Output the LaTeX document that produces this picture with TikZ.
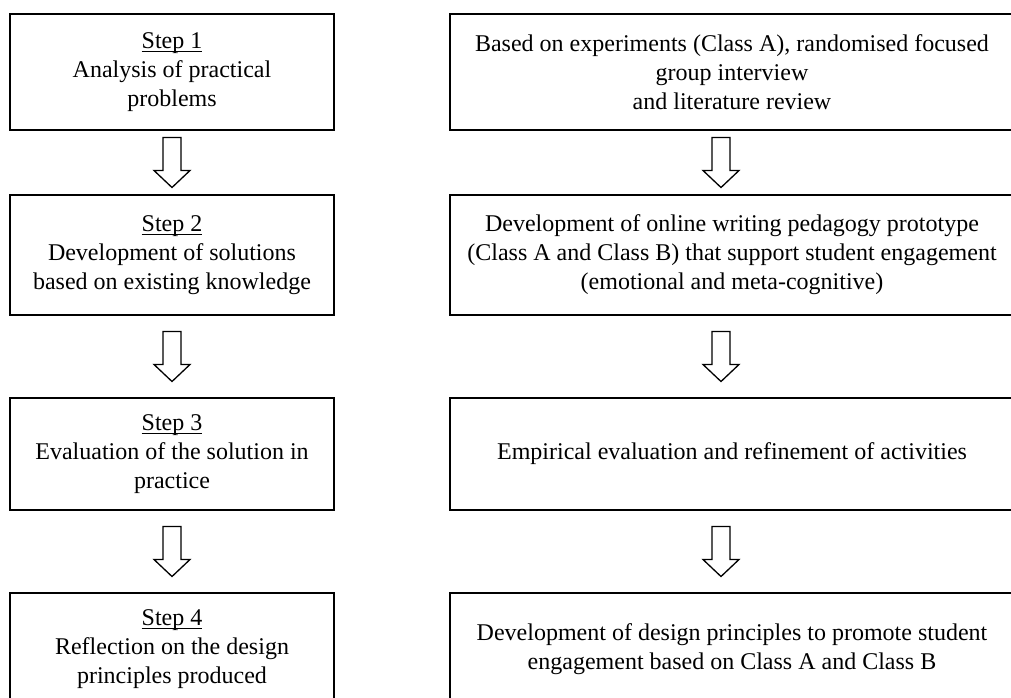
\documentclass[tikz,border=0pt]{standalone}
\usepackage{fontspec}
\setmainfont{Liberation Serif}
\usetikzlibrary{calc}
\newcommand\steplabel[1]{\setbox0\hbox{#1}\rlap{\rule[-3.6pt]{\wd0}{0.9pt}}\box0}

\begin{document}
\begin{tikzpicture}[x=1pt,y=-1pt]
  \path[use as bounding box] (0,0) rectangle (1011,698);
  \tikzset{
    stepbox/.style={draw, line width=1.5pt, align=center, inner sep=0pt,
      font=\fontsize{24}{29}\selectfont},
    hollow/.style={draw, line width=1.3pt, fill=white, line join=miter}
  }
  % left column
  \node[stepbox, minimum width=324pt, minimum height=116pt] (s1) at (172,72) {
    \steplabel{Step 1}\\Analysis of practical\\problems};
  \node[stepbox, minimum width=324pt, minimum height=120pt] (s2) at (172,255) {
    \steplabel{Step 2}\\Development of solutions\\based on existing knowledge};
  \node[stepbox, minimum width=324pt, minimum height=112pt] (s3) at (172,454) {
    \steplabel{Step 3}\\Evaluation of the solution in\\practice};
  \node[stepbox, minimum width=324pt, minimum height=112pt] (s4) at (172,649) {
    \steplabel{Step 4}\\Reflection on the design\\principles produced};
  % right column
  \node[stepbox, minimum width=564pt, minimum height=116pt] (r1) at (732,72) {
    Based on experiments (Class A), randomised focused\\group interview\\and literature review};
  \node[stepbox, minimum width=564pt, minimum height=120pt] (r2) at (732,255) {
    Development of online writing pedagogy prototype\\(Class A and Class B) that support student engagement\\(emotional and meta-cognitive)};
  \node[stepbox, minimum width=564pt, minimum height=112pt] (r3) at (732,454) {
    Empirical evaluation and refinement of activities};
  \node[stepbox, minimum width=564pt, minimum height=112pt] (r4) at (732,649) {
    Development of design principles to promote student\\engagement based on Class A and Class B};
  % block arrows
  \foreach \a/\b/\dx in {s1/s2/0, s2/s3/0, s3/s4/0, r1/r2/-11, r2/r3/-11, r3/r4/-11}{
    \coordinate (m) at ($(\a.south)!0.5!(\b.north)+(\dx,0)$);
    \draw[hollow] ($(m)+(-9,-25)$) -- ($(m)+(9,-25)$) -- ($(m)+(9,8)$) -- ($(m)+(18,8)$)
      -- ($(m)+(0,25)$) -- ($(m)+(-18,8)$) -- ($(m)+(-9,8)$) -- cycle;
  }
\end{tikzpicture}
\end{document}
